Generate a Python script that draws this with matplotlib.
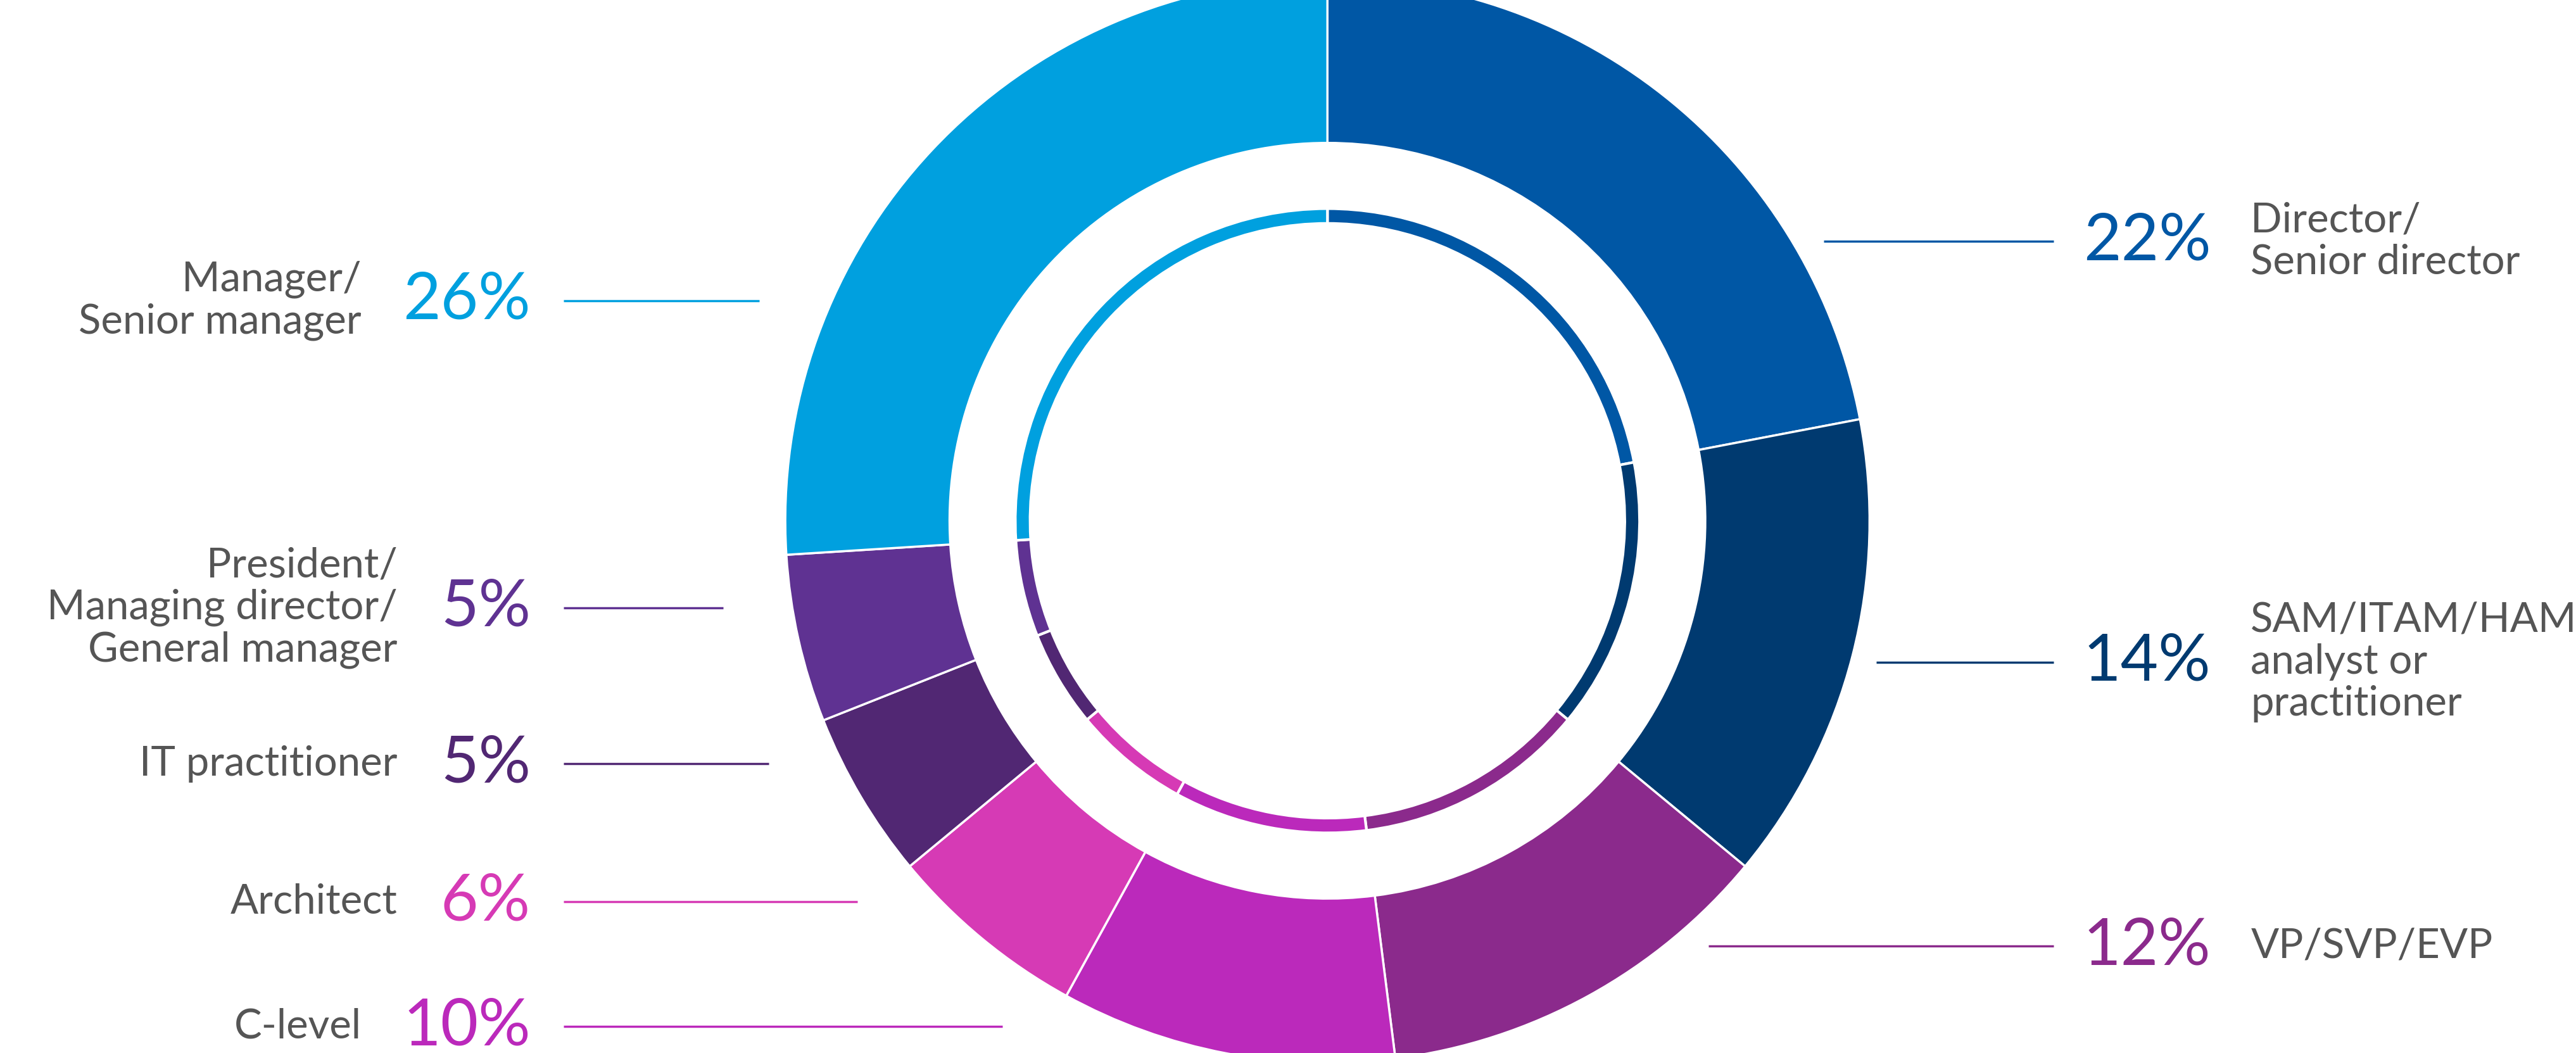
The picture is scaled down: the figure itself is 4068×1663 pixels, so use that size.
import matplotlib.pyplot as plt

plt.rcParams['font.family'] = ['Lato', 'DejaVu Sans']

# data (clockwise from top)
categories = ['Director/\nSenior director', 'SAM/ITAM/HAM\nanalyst or\npractitioner', 'VP/SVP/EVP',
              'C-level', 'Architect', 'IT practitioner',
              'President/\nManaging director/\nGeneral manager', 'Manager/\nSenior manager']
shares = [22, 14, 12, 10, 6, 5, 5, 26]
colors = ['#0057a5', '#003a70', '#8b2a8c', '#bb29bb', '#d63ab5', '#512773', '#5f3292', '#00a0df']

# label layout in display units (x of line start, x of line end, y), side
label_pos = [
    (1110, 1250, 147, 'R'),
    (1142, 1250, 403, 'R'),
    (1040, 1250, 576, 'R'),
    (343, 610, 625, 'L'),
    (343, 522, 549, 'L'),
    (343, 468, 465, 'L'),
    (343, 440, 370, 'L'),
    (343, 462, 183, 'L'),
]

W, H = 1568, 641
fig = plt.figure(figsize=(40.68, 16.63), dpi=100)
ax = fig.add_axes([0, 0, 1, 1])

cx, cy = 808, H - 317
ax.pie(shares, colors=colors, radius=330, center=(cx, cy), startangle=90, counterclock=False,
       wedgeprops=dict(width=100, edgecolor='white', linewidth=2.5), frame=True)
ax.pie(shares, colors=colors, radius=190, center=(cx, cy), startangle=90, counterclock=False,
       wedgeprops=dict(width=9, edgecolor='white', linewidth=3), frame=True)
ax.set_xlim(0, W)
ax.set_ylim(0, H)
ax.set_aspect('equal')
ax.axis('off')

pct_fs, lab_fs = 74, 47
for cat, val, col, (x0, x1, y, side) in zip(categories, shares, colors, label_pos):
    yy = H - y
    ax.plot([x0, x1], [yy, yy], color=col, lw=2.5, solid_capstyle='butt')
    if side == 'R':
        ax.text(1268, yy, f'{val}%', color=col, fontsize=pct_fs, va='center', ha='left')
        ax.text(1370, yy, cat, color='#555555', fontsize=lab_fs, va='center', ha='left',
                linespacing=1.15)
    else:
        ax.text(323, yy, f'{val}%', color=col, fontsize=pct_fs, va='center', ha='right')
        ax.text(220 if val >= 10 else 242, yy, cat, color='#555555', fontsize=lab_fs,
                va='center', ha='right', linespacing=1.15)

fig.savefig('out.png', dpi=100, facecolor='white')
